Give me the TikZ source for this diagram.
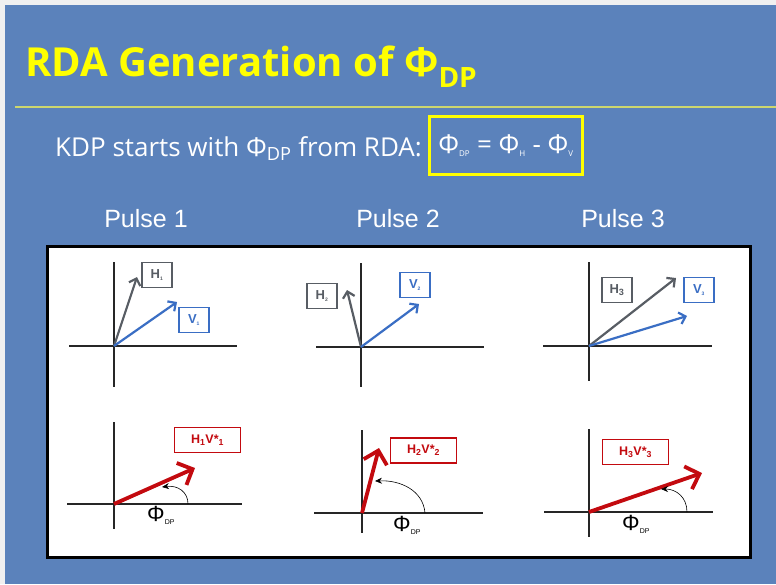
\documentclass[tikz,border=0pt]{standalone}
\usepackage{fontspec}
\setmainfont{Open Sans}
\newfontfamily\arialfont{Liberation Sans}
\usetikzlibrary{arrows.meta}
\definecolor{slideblue}{RGB}{91,130,187}
\definecolor{titleyellow}{RGB}{255,255,0}
\definecolor{rulegreen}{RGB}{205,215,110}
\definecolor{hgrey}{RGB}{88,93,100}
\definecolor{vblue}{RGB}{58,110,196}
\definecolor{pred}{RGB}{195,10,15}
\begin{document}
\begin{tikzpicture}[x=1pt, y=-1pt,
  axis/.style={line width=1.6pt, black!85},
  hvec/.style={draw=hgrey, line width=2.2pt, -{Straight Barb[length=6pt,width=12pt]}},
  vvec/.style={draw=vblue, line width=2.2pt, -{Straight Barb[length=6pt,width=12pt]}},
  pvec/.style={draw=pred, line width=3.8pt, -{Straight Barb[length=12pt,width=24pt]}},
  phase/.style={line width=0.6pt, -{Stealth[length=7pt,width=6pt]}},
  hbox/.style={draw=hgrey, line width=1.6pt, text=hgrey, font=\arialfont\fontsize{13}{15}\selectfont\bfseries, minimum width=30pt, minimum height=25pt, inner sep=0pt},
  vbox/.style={hbox, draw=vblue, text=vblue},
  pbox/.style={draw=pred, line width=1.6pt, text=pred, font=\arialfont\fontsize{12.5}{14}\selectfont\bfseries, minimum width=66pt, minimum height=25pt, inner sep=0pt},
  pulse/.style={text=white, font=\arialfont\fontsize{25}{28}\selectfont},
  philabel/.style={anchor=west, inner sep=0pt, font=\arialfont\fontsize{22}{24}\selectfont}]
\useasboundingbox (0,0) rectangle (776,584);
\fill[black!6] (0,0) rectangle (776,584);
\fill[slideblue] (5,5) rectangle (776,584);

% title and rule
\node[anchor=base west, inner sep=0pt, text=titleyellow, font=\bfseries\fontsize{40}{45}\selectfont] (title) at (25,76) {RDA Generation of Φ\textsubscript{DP}};
\draw[rulegreen, line width=1.2pt] (15,107) -- (776,107);

% subtitle with formula box
\node[anchor=base west, inner sep=0pt, text=white, font=\fontsize{26}{30}\selectfont] (sub) at (55,156) {KDP starts with Φ\textsubscript{DP} from RDA:};
\node[draw=titleyellow, line width=2.6pt, minimum width=153pt, minimum height=58pt, text=white, font=\fontsize{26}{30}\selectfont] (formula) at (506,145.5) {Φ\textsubscript{\fontsize{8}{9}\selectfont DP} = Φ\textsubscript{\fontsize{8}{9}\selectfont H} - Φ\textsubscript{\fontsize{8}{9}\selectfont V}};

% pulse titles
\node[pulse] (p1) at (146,219) {Pulse 1};
\node[pulse] (p2) at (398,219) {Pulse 2};
\node[pulse] (p3) at (623,219) {Pulse 3};

% white panel
\draw[line width=3pt, fill=white] (47,246) rectangle (750,557);

% pulse 1, H and V
\draw[axis] (114,262) -- (114,387);
\draw[axis] (69,346) -- (237,346);
\coordinate (o1) at (114,346);
\coordinate (h1) at (137,277);
\coordinate (v1) at (177,302);
\draw[hvec] (o1) -- (h1);
\draw[vvec] (o1) -- (v1);
\node[hbox] (h1box) at (157,275) {H\textsubscript{\fontsize{5}{6}\selectfont 1}};
\node[vbox] (v1box) at (194,320) {V\textsubscript{\fontsize{5}{6}\selectfont 1}};

% pulse 2, H and V
\draw[axis] (361,263) -- (361,387);
\draw[axis] (316,347) -- (484,347);
\coordinate (o2) at (361,347);
\coordinate (h2) at (347,290);
\coordinate (v2) at (419,304);
\draw[hvec] (o2) -- (h2);
\draw[vvec] (o2) -- (v2);
\node[hbox] (h2box) at (322,296) {H\textsubscript{\fontsize{5}{6}\selectfont 2}};
\node[vbox] (v2box) at (415,285) {V\textsubscript{\fontsize{5}{6}\selectfont 2}};

% pulse 3, H and V
\draw[axis] (589,262) -- (589,381);
\draw[axis] (543,346) -- (712,346);
\coordinate (o3) at (589,346);
\coordinate (h3) at (676,278);
\coordinate (v3) at (687,316);
\draw[hvec] (o3) -- (h3);
\draw[vvec] (o3) -- (v3);
\node[hbox] (h3box) at (617,290) {H\textsubscript{3}};
\node[vbox] (v3box) at (699,290) {V\textsubscript{\fontsize{5}{6}\selectfont 3}};

% pulse 1, product
\draw[axis] (114,422) -- (114,529);
\draw[axis] (67,504) -- (242,504);
\coordinate (q1) at (114,504);
\coordinate (r1) at (195,468);
\draw[pvec] (q1) -- (r1);
\node[pbox] (r1box) at (207.5,440) {H\textsubscript{1}V*\textsubscript{1}};
\draw[phase] (188,504) .. controls (188,492) and (178,485) .. (162,487);
\node[philabel] (phi1) at (147,515) {Φ\textsubscript{\fontsize{7}{8}\selectfont DP}};

% pulse 2, product
\draw[axis] (362,430) -- (362,533);
\draw[axis] (314,513) -- (483,513);
\coordinate (q2) at (362,513);
\coordinate (r2) at (379,448);
\draw[pvec] (q2) -- (r2);
\node[pbox] (r2box) at (423.5,450.5) {H\textsubscript{2}V*\textsubscript{2}};
\draw[phase] (425,513) .. controls (423,490) and (400,480) .. (375,481);
\node[philabel] (phi2) at (393,525) {Φ\textsubscript{\fontsize{7}{8}\selectfont DP}};

% pulse 3, product
\draw[axis] (589,429) -- (589,537);
\draw[axis] (544,512) -- (713,512);
\coordinate (q3) at (589,512);
\coordinate (r3) at (702,473);
\draw[pvec] (q3) -- (r3);
\node[pbox] (r3box) at (635.5,452) {H\textsubscript{3}V*\textsubscript{3}};
\draw[phase] (687,512) .. controls (687,497) and (676,489) .. (661,489);
\node[philabel] (phi3) at (622,524) {Φ\textsubscript{\fontsize{7}{8}\selectfont DP}};
\end{tikzpicture}
\end{document}
